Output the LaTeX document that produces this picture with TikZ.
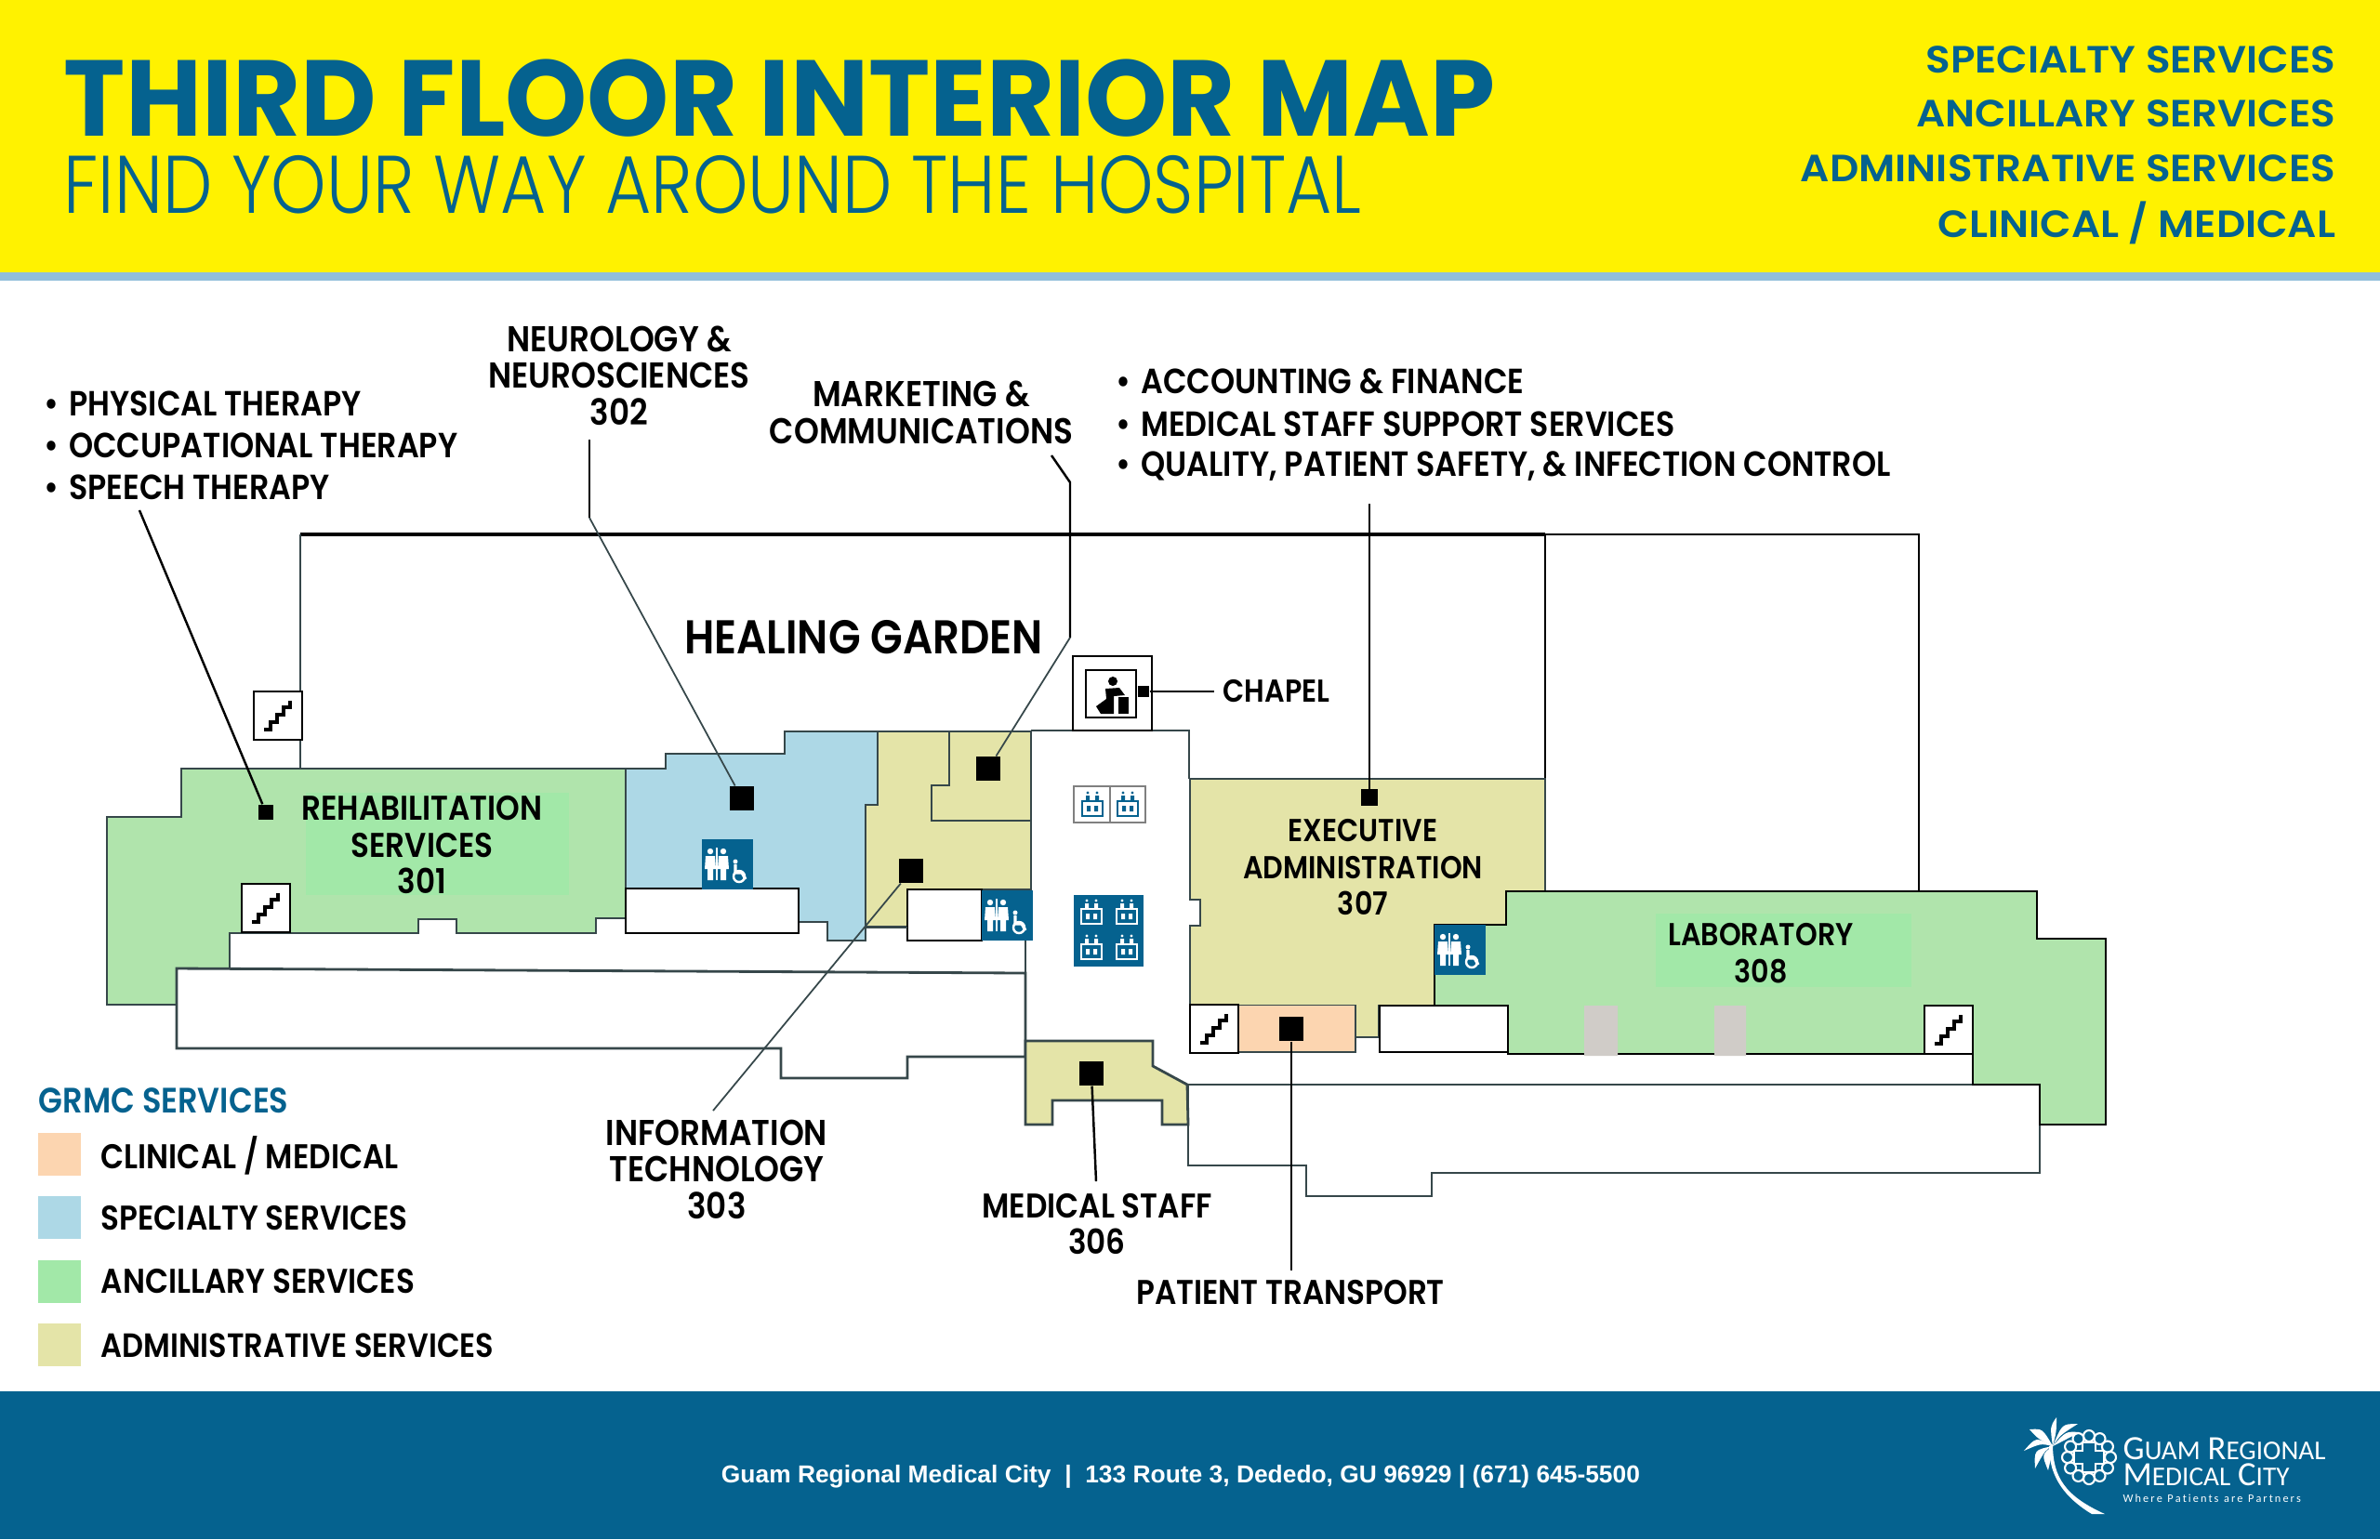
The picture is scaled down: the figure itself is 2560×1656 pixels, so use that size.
\documentclass[tikz,border=0pt]{standalone}
\usepackage{fontspec}
\setmainfont{Poppins}
\newfontfamily\titlefont[FakeStretch=0.967]{Poppins Bold}
\newfontfamily\subfont[FakeStretch=0.86]{Poppins Light}
\newfontfamily\labfont[FakeStretch=0.885]{Poppins SemiBold}
\newfontfamily\svcfont[FakeStretch=1.07]{Poppins SemiBold}
\newfontfamily\footfont{Liberation Sans}
\newfontfamily\logofont{Carlito}
\definecolor{hdryellow}{HTML}{FFF200}
\definecolor{hdrblue}{HTML}{05628F}
\definecolor{stripblue}{HTML}{90BEDA}
\definecolor{ancgreen}{HTML}{B0E4AC}
\definecolor{anclabel}{HTML}{A2E8A8}
\definecolor{spcblue}{HTML}{ADD8E6}
\definecolor{admtan}{HTML}{E4E4A8}
\definecolor{clinorange}{HTML}{FCD5B0}
\definecolor{wallgray}{HTML}{36474A}
\definecolor{pillar}{HTML}{D0CCC8}
\newcommand{\logocaps}[2]{{\fontsize{10.4}{10}\selectfont #1}{\fontsize{8.3}{10}\selectfont #2}}
\tikzset{
  wall/.style={draw=wallgray,line width=0.8pt,line join=miter},
  blackwall/.style={draw=black,line width=0.8pt},
  marksq/.style={fill=black,minimum size=7.3pt,inner sep=0pt},
  leader/.style={draw=black,line width=0.7pt},
  thinleader/.style={draw=wallgray,line width=0.5pt},
  lab/.style={font=\labfont\fontsize{10.5}{11.2}\selectfont,align=center,inner sep=0pt},
  labwide/.style={lab,font=\labfont\fontsize{11}{11.2}\selectfont},
  labtight/.style={lab,font=\labfont\fontsize{9.7}{11.3}\selectfont},
  blab/.style={lab,anchor=west,font=\labfont\fontsize{10.7}{11.2}\selectfont},
  swatch/.style={minimum width=13.3pt,minimum height=13.3pt,inner sep=0pt},
  svc/.style={font=\svcfont\fontsize{11.6}{12}\selectfont,text=hdrblue,anchor=east,inner sep=0pt},
  stairicon/.pic={
    \draw[fill=white,draw=black,line width=0.8pt] (-26,-26) rectangle (26,26);
    \draw[black,line width=1.2pt] (-15,15)--(-8,15)--(-8,7)--(-1,7)--(-1,-1)--(6,-1)--(6,-9)--(13,-9)--(13,-16);
  },
  wcicon/.pic={
    \fill[hdrblue] (0,0) rectangle (55,54);
    \foreach \p in {9,23} {
      \fill[white] (\p,13) circle (3.2);
      \fill[white] (\p-5,18) -- (\p+5,18) -- (\p+6,32) -- (\p+3,32) -- (\p+3,44) -- (\p-3,44) -- (\p-3,32) -- (\p-6,32) -- cycle;
    }
    \draw[white,line width=0.7pt] (16,9)--(16,44);
    \fill[white] (36,24) circle (2.5);
    \draw[white,line width=0.9pt] (36,27)--(36,36)--(43,36)--(47,43);
    \draw[white,line width=0.7pt] (40,40) circle (6);
  },
  lifticon/.pic={
    \draw[#1,line width=0.5pt] (-11,-4) rectangle (11,12);
    \fill[#1] (-5,-13) circle (1.6) (5,-13) circle (1.6);
    \fill[#1] (-7,-10) rectangle (-3,-5) (3,-10) rectangle (7,-5);
    \fill[#1] (-6,1) rectangle (-2,7) (2,1) rectangle (6,7);
  },
}
\begin{document}
\begin{tikzpicture}[x=0.01cm,y=-0.01cm]
\path[use as bounding box] (0,0) rectangle (2560,1656);
\fill[white] (0,0) rectangle (2560,1656);
%header
\fill[hdryellow] (0,0) rectangle (2560,293);
\fill[stripblue] (0,293) rectangle (2560,302);
\node[anchor=west,inner sep=0pt,text=hdrblue,font=\titlefont\fontsize{33}{34}\selectfont] (title) at (68,106) {THIRD FLOOR INTERIOR MAP};
\node[anchor=west,inner sep=0pt,text=hdrblue,font=\subfont\fontsize{25}{26}\selectfont] (subtitle) at (68,199) {FIND YOUR WAY AROUND THE HOSPITAL};
\node[svc] (svc1) at (2513,64) {SPECIALTY SERVICES};
\node[svc] (svc2) at (2513,122) {ANCILLARY SERVICES};
\node[svc] (svc3) at (2513,181) {ADMINISTRATIVE SERVICES};
\node[svc] (svc4) at (2513,240) {CLINICAL / MEDICAL};
%garden outline
\draw[black,line width=1.3pt] (323,575)--(1662,575);
\draw[blackwall] (1662,575)--(2064,575)--(2064,959);
\draw[wall] (323,575)--(323,827);
\draw[blackwall] (1662,575)--(1662,838);
%rehabilitation
\draw[wall,fill=ancgreen] (115,879)--(195,879)--(195,827)--(673,827)--(673,988)--(641,988)--(641,1004)--(491,1004)--(491,989)--(450,989)--(450,1004)--(247,1004)--(247,1042)--(190,1042)--(190,1081)--(115,1081)--cycle;
\fill[anclabel] (329,853) rectangle (612,963);
%specialty
\draw[wall,fill=spcblue] (673,827)--(716,827)--(716,811)--(844,811)--(844,787)--(944,787)--(944,866)--(931,866)--(931,1012)--(890,1012)--(890,992)--(859,992)--(859,956)--(673,956)--cycle;
\draw[blackwall,fill=white] (673,956) rectangle (859,1004);
%admin left
\draw[wall,fill=admtan] (931,866)--(944,866)--(944,787)--(1109,787)--(1109,957)--(976,957)--(976,997)--(931,997)--cycle;
\draw[wall] (1021,787)--(1021,845)--(1002,845)--(1002,883)--(1109,883);
\draw[blackwall,fill=white] (976,957) rectangle (1056,1012);
\draw[wall] (931,998)--(976,998);
%long rooms
\draw[wall,fill=white] (190,1042)--(1103,1047)--(1103,1137)--(976,1137)--(976,1160)--(840,1160)--(840,1128)--(190,1128)--cycle;
\draw[wall,fill=white] (1278,1167)--(2194,1167)--(2194,1262)--(1540,1262)--(1540,1287)--(1405,1287)--(1405,1254)--(1278,1254)--cycle;
%corridor walls
\draw[wall] (1109,786)--(1279,786)--(1279,838);
\draw[wall] (1103,1012)--(1103,1047);
%medical staff
\draw[wall,fill=admtan] (1103,1120)--(1240,1120)--(1240,1147)--(1277,1167)--(1278,1210)--(1250,1210)--(1250,1184)--(1132,1184)--(1132,1210)--(1103,1210)--cycle;
%executive
\draw[wall,fill=admtan] (1280,838)--(1662,838)--(1662,959)--(1620,959)--(1620,995)--(1543,995)--(1543,1082)--(1483,1082)--(1483,1116)--(1458,1116)--(1458,1082)--(1280,1082)--(1280,996)--(1291,996)--(1291,968)--(1280,968)--cycle;
\fill[clinorange] (1332,1082) rectangle (1458,1132);
\draw[wall] (1332,1132)--(1458,1132)--(1458,1082);
\draw[blackwall,fill=white] (1484,1082) rectangle (1622,1132);
%laboratory
\draw[blackwall,fill=ancgreen] (1620,959)--(2191,959)--(2191,1010)--(2265,1010)--(2265,1210)--(2194,1210)--(2194,1167)--(2122,1167)--(2122,1134)--(1622,1134)--(1622,1082)--(1543,1082)--(1543,995)--(1620,995)--cycle;
\fill[anclabel] (1781,983) rectangle (2056,1062);
\fill[pillar] (1704,1082) rectangle (1740,1136) (1844,1082) rectangle (1878,1136);
%stairs
\pic at (299,770) {stairicon};
\pic at (286,977) {stairicon};
\pic at (1306,1107) {stairicon};
\pic at (2096,1108) {stairicon};
%restrooms
\pic at (755,903) {wcicon};
\pic at (1056,958) {wcicon};
\pic at (1543,995) {wcicon};
%elevators
\draw[gray,line width=0.6pt,fill=white] (1155,846) rectangle (1232,885);
\draw[gray,line width=0.6pt] (1194,846)--(1194,885);
\pic at (1175,866) {lifticon=hdrblue};
\pic at (1213,866) {lifticon=hdrblue};
\fill[hdrblue] (1155,963) rectangle (1230,1040);
\pic at (1174,982) {lifticon=white};
\pic at (1212,982) {lifticon=white};
\pic at (1174,1020) {lifticon=white};
\pic at (1212,1020) {lifticon=white};
%chapel
\draw[blackwall,fill=white] (1154,706) rectangle (1239,786);
\draw[black,line width=0.8pt] (1168,721) rectangle (1222,772);
\fill[black] (1197,733) circle (5);
\fill[black] (1184,768)--(1179,760)--(1190,752)--(1189,741)--(1204,740)--(1210,748)--(1198,749)--(1198,768)--cycle;
\fill[black] (1203,750) rectangle (1214,768);
%marks
\node[marksq,minimum size=4.6pt] (m301) at (286,874) {};
\node[marksq] (m302) at (798,859) {};
\node[marksq] (m303) at (980,937) {};
\node[marksq] (mmkt) at (1063,827) {};
\node[marksq] (m306) at (1174,1155) {};
\node[marksq] (mtrans) at (1389,1107) {};
\node[marksq,minimum size=5pt] (m307) at (1473,858) {};
\node[marksq,minimum size=3.3pt] (mchap) at (1230,744) {};
%labels
\node[blab] (rehab1) at (47,434) {•\hspace{3pt}PHYSICAL THERAPY};
\node[blab] (rehab2) at (47,479) {•\hspace{3pt}OCCUPATIONAL THERAPY};
\node[blab] (rehab3) at (47,524) {•\hspace{3pt}SPEECH THERAPY};
\node[labwide] (l302) at (666,404) {NEUROLOGY \&\\NEUROSCIENCES\\302};
\node[labwide] (lmkt) at (991,444) {MARKETING \&\\COMMUNICATIONS};
\node[blab] (adm1) at (1200,410) {•\hspace{3pt}ACCOUNTING \& FINANCE};
\node[blab] (adm2) at (1200,456) {•\hspace{3pt}MEDICAL STAFF SUPPORT SERVICES};
\node[blab] (adm3) at (1200,502) {•\hspace{3pt}QUALITY, PATIENT SAFETY, \& INFECTION CONTROL};
\node[lab,font=\labfont\fontsize{14.5}{15}\selectfont] (garden) at (929,686) {HEALING GARDEN};
\node[lab] (l301) at (454,909) {REHABILITATION\\SERVICES\\301};
\node[labtight] (l307) at (1466,933) {EXECUTIVE\\ADMINISTRATION\\307};
\node[labtight] (l308) at (1894,1026) {LABORATORY\\308};
\node[labwide] (l303) at (771,1258) {INFORMATION\\TECHNOLOGY\\303};
\node[lab] (l306) at (1180,1317) {MEDICAL STAFF\\306};
\node[lab] (ltrans) at (1388,1391) {PATIENT TRANSPORT};
\node[labtight,anchor=west] (lchap) at (1315,744) {CHAPEL};
%leaders
\coordinate (c301) at (150,549);
\coordinate (c302a) at (634,473);
\coordinate (c302b) at (634,557);
\coordinate (cmkta) at (1131,490);
\coordinate (cmktb) at (1151,519);
\coordinate (cmktc) at (1151,686);
\coordinate (c303) at (767,1195);
\coordinate (c306) at (1179,1271);
\coordinate (ctrans) at (1389,1367);
\coordinate (c307) at (1473,542);
\coordinate (cchap) at (1306,744);
\draw[leader] (c301)--(m301);
\draw[leader] (c302a)--(c302b);
\draw[thinleader] (c302b)--(m302);
\draw[leader] (cmkta)--(cmktb)--(cmktc);
\draw[thinleader] (cmktc)--(mmkt);
\draw[thinleader] (c303)--(m303);
\draw[leader] (m306)--(c306);
\draw[leader] (mtrans)--(ctrans);
\draw[leader] (c307)--(m307);
\draw[leader] (mchap)--(cchap);
%legend
\node[anchor=west,inner sep=0pt,text=hdrblue,font=\labfont\fontsize{10.8}{11}\selectfont] (grmc) at (41,1184) {GRMC SERVICES};
\node[swatch,fill=clinorange] (s1) at (64,1242) {};
\node[swatch,fill=spcblue] (s2) at (64,1310) {};
\node[swatch,fill=anclabel] (s3) at (64,1379) {};
\node[swatch,fill=admtan] (s4) at (64,1447) {};
\node[lab,anchor=west] (t1) at (108,1243) {CLINICAL / MEDICAL};
\node[lab,anchor=west] (t2) at (108,1311) {SPECIALTY SERVICES};
\node[lab,anchor=west] (t3) at (108,1379) {ANCILLARY SERVICES};
\node[lab,anchor=west,font=\labfont\fontsize{10.3}{11}\selectfont] (t4) at (108,1448) {ADMINISTRATIVE SERVICES};
%footer
\fill[hdrblue] (0,1497) rectangle (2560,1656);
\node[inner sep=0pt,text=white,font=\footfont\bfseries\fontsize{7.5}{8}\selectfont] (addr) at (1270,1589) {Guam Regional Medical City~~|~~133 Route 3, Dededo, GU 96929 | (671) 645-5500};
%logo
\foreach \tipx/\tipy/\ax/\ay/\bx/\by in {2177/1561/2190/1546/2195/1553,2183/1538/2197/1537/2192/1548,2212/1525/2205/1535/2212/1540,2235/1532/2218/1532/2216/1544,2237/1541/2222/1540/2216/1552,2189/1580/2188/1560/2200/1560,2203/1582/2196/1565/2207/1565} {
  \fill[white] (2208,1556) .. controls (\ax,\ay) and (\ax,\ay) .. (\tipx,\tipy) .. controls (\bx,\by) and (\bx,\by) .. (2208,1556) -- cycle;
}
\fill[white] (2208,1554) .. controls (2208,1590) and (2222,1610) .. (2264,1629) -- (2250,1629) .. controls (2222,1612) and (2204,1590) .. (2204,1556) -- cycle;
\foreach \a in {0,30,...,330} {
  \draw[white,line width=0.6pt] (2247,1568) ++(\a:23) circle (6);
}
\draw[white,line width=0.7pt] (2240,1552)--(2254,1552)--(2254,1561)--(2263,1561)--(2263,1575)--(2254,1575)--(2254,1584)--(2240,1584)--(2240,1575)--(2231,1575)--(2231,1561)--(2240,1561)--cycle;
\node[anchor=west,inner sep=0pt,text=white,font=\logofont] (logo1) at (2283,1559) {\logocaps{G}{UAM} \logocaps{R}{EGIONAL}};
\node[anchor=west,inner sep=0pt,text=white,font=\logofont] (logo2) at (2283,1587) {\logocaps{M}{EDICAL} \logocaps{C}{ITY}};
\node[anchor=west,inner sep=0pt,text=white,font=\logofont\fontsize{3.5}{4}\selectfont] (logo3) at (2283,1612) {W\,h\,e\,r\,e\ \ P\,a\,t\,i\,e\,n\,t\,s\ \ a\,r\,e\ \ P\,a\,r\,t\,n\,e\,r\,s};
\end{tikzpicture}
\end{document}
